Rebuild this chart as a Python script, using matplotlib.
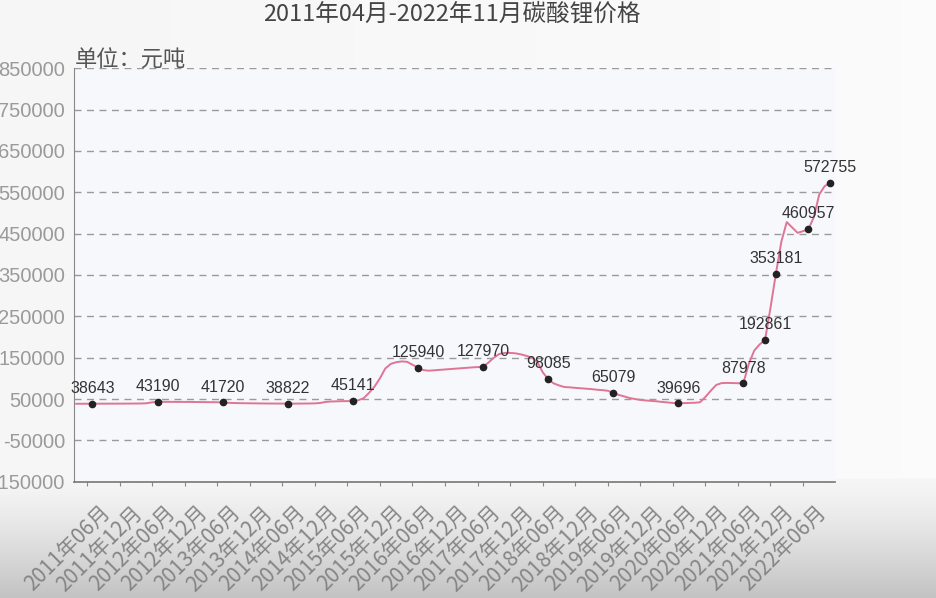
import numpy as np
import pandas as pd
import matplotlib
matplotlib.use("Agg")
import matplotlib.pyplot as plt
import matplotlib.transforms as mtransforms

# ---- data (monthly lithium carbonate price, yuan/ton), 2011-04 .. 2022-11 ----
prices = [
    38500, 38600, 38600, 38643, 38700, 38700, 38800, 38800, 38900, 38900, 39000, 39000, 39200, 39800,
    42000, 43190,
    43200, 43200, 43100, 43000, 43000, 42900, 42800, 42800, 42700, 42500, 42200,
    41720,
    40800, 40300, 40000, 39800, 39600, 39500, 39300, 39200, 39100, 39000, 38900,
    38822,
    38800, 38900, 39000, 39200, 39500, 40500, 43000, 44000, 44500, 44800, 45000,
    45141,
    47000, 52000, 65000, 80000, 100000, 124000, 135000, 139000, 141000, 140000, 133000,
    125940,
    120000, 118500, 119500, 120500, 121500, 122500, 123500, 124500, 125500, 126500, 127200,
    127970,
    138000, 150000, 159000, 161500, 161500, 160500, 158000, 154500, 150000, 140000, 115000,
    98085,
    88000, 83000, 79000, 78300, 77000, 76000, 75000, 74000, 72500, 71500, 70000,
    65079,
    60000, 56500, 52500, 50000, 48000, 46500, 45500, 44500, 43000, 41800, 40500,
    39696,
    40000, 40500, 41000, 42000, 55000, 70000, 84000, 88500, 89000, 88500, 88200,
    87978,
    135000, 167000, 182000,
    192861,
    270000,
    353181,
    430000, 478000, 465000, 452000, 456000,
    460957,
    490000, 545000, 565000,
    572755,
]
months = pd.date_range("2011-04-01", periods=len(prices), freq="MS")
marked_idx = [3, 15, 27, 39, 51, 63, 75, 87, 99, 111, 123, 127, 129, 135, 139]
tick_idx = list(range(2, len(prices), 6))
tick_labels = [f"{months[i].year}年{months[i].month:02d}月" for i in tick_idx]
y_ticks = list(range(-150000, 850001, 100000))

title = "2011年04月-2022年11月碳酸锂价格"
unit = "单位：元吨"

CJK = ["Noto Sans CJK SC", "DejaVu Sans"]
NUM = ["Liberation Sans", "DejaVu Sans"]

W, H = 936, 598
fig = plt.figure(figsize=(W / 100, H / 100), dpi=100)

# background (screen photo look: light, darker toward bottom)
bg = fig.add_axes([0, 0, 1, 1], zorder=-10)
yy = np.linspace(0, 1, 300)[:, None]
xx = np.linspace(0, 1, 300)[None, :]
v = 0.965 - 0.20 * np.clip((yy - 0.80) / 0.20, 0, 1) ** 1.3 + 0.02 * xx * (yy < 0.8)
v = np.clip(v, 0, 1)
bg.imshow(np.dstack([v, v, v]), extent=[0, 1, 1, 0], aspect="auto", interpolation="bilinear")
bg.set_xlim(0, 1)
bg.set_ylim(1, 0)
bg.axis("off")

ax = fig.add_axes([74 / W, 1 - 481.7 / H, (835 - 74) / W, (481.7 - 68.3) / H])
ax.set_facecolor("#f7f8fc")

x = np.arange(len(prices))
ax.plot(x, prices, color="#e07494", lw=1.4, zorder=3)
ax.plot([x[i] for i in marked_idx], [prices[i] for i in marked_idx], "o",
        color="#222222", ms=4.5, zorder=4)
for i in marked_idx:
    ax.annotate(str(prices[i]), (x[i], prices[i]), xytext=(0, 11), textcoords="offset points",
                ha="center", va="center", fontsize=11.5, family=NUM, color="#333333", zorder=5)

ax.set_xlim(-0.4, 139.9)
ax.set_ylim(-150000, 850000)
ax.set_yticks(y_ticks)
ax.set_yticklabels([str(t) for t in y_ticks], family=NUM, fontsize=14.5, color="#9a9a9a")
ax.tick_params(axis="y", length=0, pad=6.5)
ax.set_xticks(tick_idx)
ax.set_xticklabels(tick_labels, rotation=45, ha="right", va="top", rotation_mode="anchor",
                   family=CJK, fontsize=15, fontweight="light", color="#858585")
ax.tick_params(axis="x", length=3, color="#888888", pad=4)
offset = mtransforms.ScaledTranslation(12 / 100, -10 / 100, fig.dpi_scale_trans)
for lab in ax.get_xticklabels():
    lab.set_transform(lab.get_transform() + offset)

ax.grid(axis="y", color="#9a9a9a", linestyle=(0, (5, 4)), lw=1.0)
ax.set_axisbelow(True)
for s in ["top", "right"]:
    ax.spines[s].set_visible(False)
ax.spines["left"].set_color("#888888")
ax.spines["bottom"].set_color("#777777")
ax.spines["bottom"].set_linewidth(1.2)

fig.text(452 / W, 1 - 14 / H, title, ha="center", va="center", family=CJK,
         fontsize=17, fontweight="light", color="#444444")
fig.text(75 / W, 1 - 60 / H, unit, ha="left", va="center", family=CJK,
         fontsize=16, fontweight="light", color="#555555")

fig.savefig("out.png", dpi=100)
